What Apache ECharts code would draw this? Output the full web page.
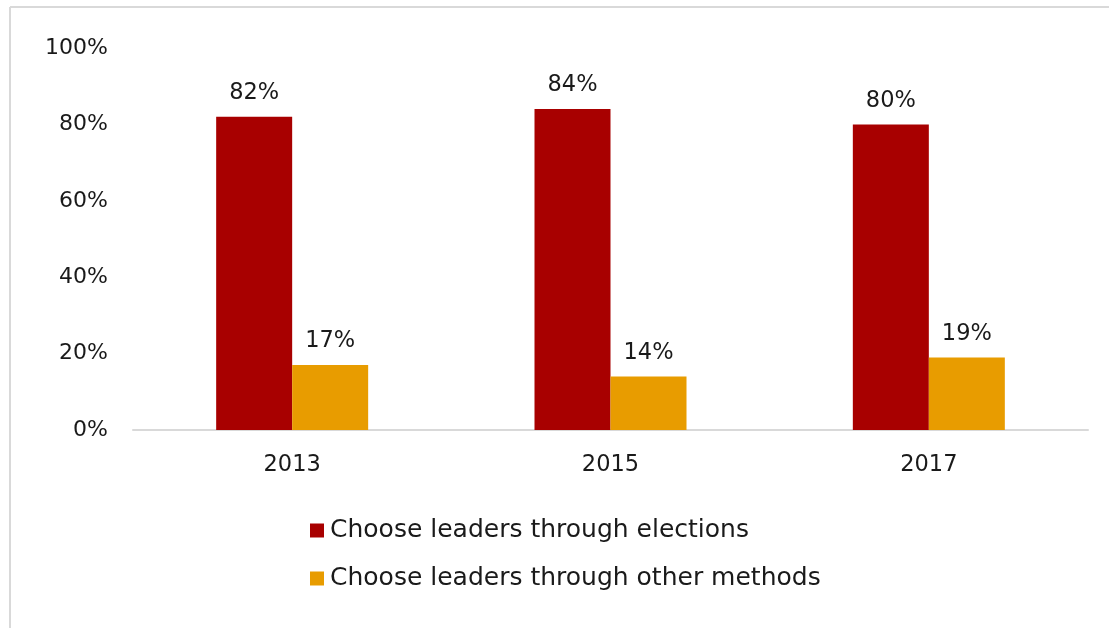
<!DOCTYPE html>
<html>
<head>
<meta charset="utf-8">
<script src="https://cdn.jsdelivr.net/npm/echarts@6/dist/echarts.min.js"></script>
<style>
  html, body { margin: 0; padding: 0; background: #fff; }
  #chart { width: 1109px; height: 628px; }
</style>
</head>
<body>
<div id="chart"></div>
<script>
// Survey years and share of respondents per preferred method
const years = ['2013', '2015', '2017'];
const electionsLabel = 'Choose leaders through elections';
const otherLabel = 'Choose leaders through other methods';
const electionsValues = [82, 84, 80];
const otherValues = [17, 14, 19];
const yTicks = [0, 20, 40, 60, 80, 100];

const FONT = 'DejaVu Sans';
const TEXT = '#1a1a1a';

const chart = echarts.init(document.getElementById('chart'), null, { renderer: 'canvas' });

const barLabel = {
  show: true,
  position: 'top',
  distance: 12,
  formatter: p => p.value + '%',
  fontFamily: FONT,
  fontSize: 22.5,
  color: TEXT
};

chart.setOption({
  backgroundColor: '#fff',
  animation: false,
  textStyle: { fontFamily: FONT },
  graphic: [
    // chart frame (left and top edges)
    { type: 'line', shape: { x1: 10, y1: 7, x2: 10, y2: 628 }, style: { stroke: '#d9d9d9', lineWidth: 2 } },
    { type: 'line', shape: { x1: 10, y1: 7, x2: 1109, y2: 7 }, style: { stroke: '#d9d9d9', lineWidth: 2 } }
  ],
  grid: { left: 133, right: 21, top: 48, bottom: 198, containLabel: false },
  legend: {
    orient: 'vertical',
    left: 305,
    top: 513,
    itemWidth: 14,
    itemHeight: 14,
    itemGap: 23,
    icon: 'rect',
    textStyle: { fontFamily: FONT, fontSize: 25, color: TEXT, padding: [0, 0, 0, 1] },
    data: [electionsLabel, otherLabel]
  },
  xAxis: {
    type: 'category',
    data: years,
    axisLine: { show: true, lineStyle: { color: '#d9d9d9', width: 2 } },
    axisTick: { show: false },
    axisLabel: { fontFamily: FONT, fontSize: 22.5, color: TEXT, margin: 24 }
  },
  yAxis: {
    type: 'value',
    min: yTicks[0],
    max: yTicks[yTicks.length - 1],
    interval: 20,
    splitLine: { show: false },
    axisLine: { show: false },
    axisTick: { show: false },
    axisLabel: { fontFamily: FONT, fontSize: 22, color: TEXT, margin: 25, formatter: v => v + '%' }
  },
  series: [
    {
      name: electionsLabel,
      type: 'bar',
      data: electionsValues,
      barWidth: 76,
      barGap: '0%',
      itemStyle: { color: '#a80000' },
      label: barLabel
    },
    {
      name: otherLabel,
      type: 'bar',
      data: otherValues,
      barWidth: 76,
      barGap: '0%',
      itemStyle: { color: '#e89c00' },
      label: barLabel
    }
  ]
});
</script>
</body>
</html>
